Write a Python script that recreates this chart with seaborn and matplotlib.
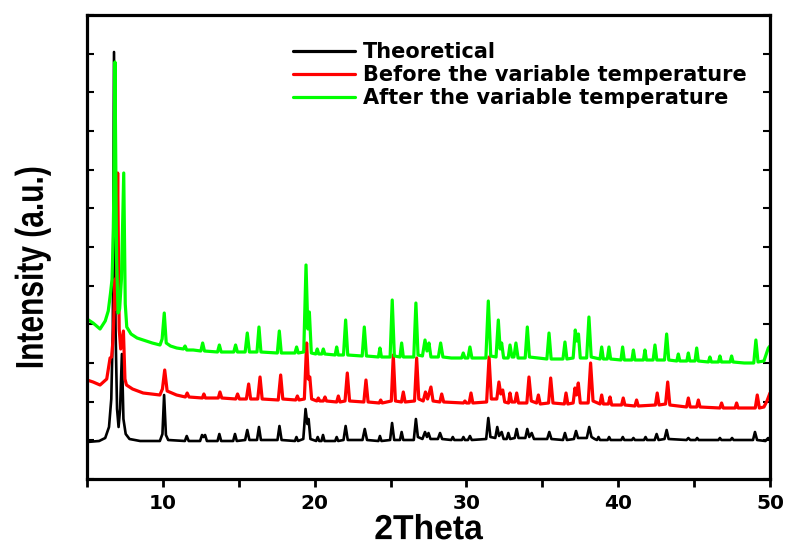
import numpy as np
import pandas as pd
import matplotlib
matplotlib.use("Agg")
import matplotlib.pyplot as plt
import seaborn as sns
from matplotlib.patheffects import AbstractPathEffect
from matplotlib.transforms import Affine2D

# ---------------- data (intensity in a.u.) ----------------
theo_x = [5.0, 5.8, 6.2, 6.45, 6.6, 6.7, 6.78, 6.88, 6.98, 7.08, 7.18, 7.3, 7.4, 7.55, 7.8, 8.5,
          9.8, 9.97, 10.08, 10.2, 10.35, 11.45, 11.57, 11.7, 12.45, 12.58, 12.68, 12.78, 12.9,
          13.6, 13.72, 13.84, 14.63, 14.75, 14.87, 15.42, 15.56, 15.7, 16.2, 16.33, 16.46,
          17.55, 17.68, 17.82, 18.7, 18.8, 18.9, 19.25, 19.4, 19.52, 19.6, 19.72, 20.1, 20.2,
          20.3, 20.45, 20.55, 20.65, 21.35, 21.45, 21.55, 21.9, 22.04, 22.18, 23.15, 23.3, 23.45,
          24.2, 24.3, 24.4, 24.97, 25.1, 25.24, 25.62, 25.73, 25.84, 26.53, 26.67, 26.8, 27.1,
          27.27, 27.4, 27.5, 27.63, 28.12, 28.26, 28.4, 29.0, 29.1, 29.2, 29.7, 29.8, 29.9, 30.1,
          30.23, 30.35, 31.3, 31.44, 31.58, 31.9, 32.03, 32.15, 32.32, 32.45, 32.65, 32.76, 32.88,
          33.18, 33.31, 33.43, 33.88, 34.01, 34.14, 34.3, 34.45, 35.32, 35.46, 35.6, 36.36, 36.49,
          36.62, 37.08, 37.22, 37.35, 37.93, 38.09, 38.24, 38.45, 38.6, 38.7, 38.8, 39.3, 39.4,
          39.5, 40.2, 40.3, 40.4, 40.9, 41.0, 41.1, 41.7, 41.8, 41.9, 42.4, 42.53, 42.66, 43.05,
          43.19, 43.32, 44.5, 44.62, 44.75, 45.1, 45.2, 45.3, 46.6, 46.7, 46.8, 47.4, 47.5, 47.6,
          48.88, 49.01, 49.15, 49.7, 49.88, 50.0]
theo_y = [37, 38, 41, 52, 80, 150, 427, 150, 70, 52, 70, 125, 60, 45, 40, 38,
          38, 45, 84, 44, 39, 38, 43, 38, 38, 44, 42, 44, 38,
          38, 45, 38, 38, 45, 38, 39, 49, 39, 39, 52, 39,
          39, 53, 39, 38, 42, 38, 40, 70, 55, 60, 40, 38, 42,
          38, 38, 44, 38, 38, 42, 38, 39, 53, 39, 39, 50, 39,
          38, 43, 38, 39, 56, 39, 39, 47, 39, 39, 60, 42, 40,
          47, 42, 46, 40, 40, 46, 40, 39, 42, 39, 39, 42, 39, 39,
          43, 39, 40, 61, 42, 41, 52, 43, 47, 40, 40, 46, 40,
          41, 50, 41, 41, 50, 42, 46, 40, 40, 47, 40, 39, 46,
          39, 40, 48, 41, 41, 52, 42, 40, 39, 42, 39, 39, 42,
          39, 39, 42, 39, 39, 41, 39, 39, 42, 39, 39, 45, 39, 40,
          49, 40, 39, 41, 39, 39, 41, 39, 39, 41, 39, 39, 41, 39,
          39, 47, 39, 38, 41, 39]

before_x = [5.0, 5.4, 5.86, 6.3, 6.52, 6.62, 6.72, 6.85, 6.92, 7.02, 7.12, 7.22, 7.4, 7.5, 7.6,
            8.0, 8.7, 9.8, 9.97, 10.12, 10.28, 10.9, 11.48, 11.6, 11.72, 12.6, 12.7, 12.8, 13.65,
            13.76, 13.88, 14.8, 14.92, 15.04, 15.5, 15.65, 15.78, 16.25, 16.4, 16.54, 17.6, 17.76,
            17.9, 18.75, 18.86, 18.97, 19.32, 19.47, 19.58, 19.68, 19.8, 20.14, 20.24, 20.34, 20.57,
            20.68, 20.78, 21.45, 21.56, 21.67, 22.0, 22.15, 22.3, 23.24, 23.38, 23.52, 24.25, 24.35,
            24.45, 25.05, 25.18, 25.32, 25.72, 25.84, 25.96, 26.58, 26.72, 26.86, 27.15, 27.3, 27.44,
            27.66, 27.8, 28.25, 28.37, 28.5, 29.8, 29.9, 30.0, 30.18, 30.3, 30.42, 31.33, 31.49,
            31.64, 32.0, 32.14, 32.26, 32.39, 32.52, 32.77, 32.87, 32.98, 33.2, 33.31, 33.43, 33.98,
            34.12, 34.27, 34.62, 34.74, 34.86, 35.41, 35.55, 35.7, 36.45, 36.56, 36.68, 37.03,
            37.15, 37.25, 37.37, 37.5, 38.02, 38.18, 38.34, 38.8, 38.91, 39.02, 39.35, 39.46, 39.57,
            40.22, 40.33, 40.44, 41.1, 41.21, 41.32, 42.45, 42.57, 42.69, 43.12, 43.26, 43.4, 44.5,
            44.62, 44.74, 45.17, 45.28, 45.39, 46.7, 46.81, 46.92, 47.7, 47.8, 47.9, 49.03, 49.16,
            49.3, 49.6, 49.8, 50.0]
before_y = [99, 97, 94, 100, 121, 122, 140, 200, 170, 306, 150, 130, 148, 100, 94,
            90, 86, 84, 90, 109, 88, 84, 82, 86, 82, 81, 85, 81, 81,
            87, 81, 80, 85, 80, 80, 95, 80, 80, 102, 80, 79, 104,
            80, 79, 83, 79, 80, 136, 100, 102, 80, 78, 81, 78, 78,
            82, 78, 77, 83, 77, 78, 106, 78, 77, 99, 77, 76, 79,
            76, 78, 124, 78, 77, 87, 77, 78, 121, 80, 78, 87, 80,
            92, 78, 77, 85, 77, 76, 78, 76, 76, 86, 76, 77, 122,
            80, 80, 97, 85, 89, 77, 76, 86, 77, 77, 86, 76, 76,
            102, 78, 76, 84, 75, 76, 101, 76, 75, 86, 75, 76,
            91, 84, 96, 76, 76, 116, 78, 75, 84, 75, 75, 82, 74,
            74, 81, 74, 73, 79, 73, 74, 86, 74, 75, 97, 74, 72,
            81, 72, 72, 79, 72, 71, 76, 71, 71, 76, 71, 71, 84,
            71, 72, 78, 86]

after_x = [5.0, 5.4, 5.86, 6.2, 6.4, 6.55, 6.65, 6.74, 6.84, 6.95, 7.05, 7.15, 7.27, 7.42, 7.52,
           7.62, 7.9, 8.3, 8.7, 9.3, 9.81, 9.95, 10.09, 10.22, 10.5, 10.91, 11.35, 11.46, 11.57,
           12.0, 12.5, 12.62, 12.74, 13.6, 13.72, 13.84, 14.2, 14.67, 14.79, 14.91, 15.42, 15.56,
           15.7, 16.2, 16.33, 16.46, 17.54, 17.67, 17.8, 18.3, 18.7, 18.81, 18.92, 19.28, 19.43,
           19.55, 19.65, 19.78, 20.07, 20.17, 20.27, 20.47, 20.57, 20.67, 21.35, 21.45, 21.55, 21.9,
           22.04, 22.18, 23.13, 23.27, 23.41, 24.2, 24.3, 24.4, 24.97, 25.11, 25.25, 25.62, 25.73,
           25.84, 26.53, 26.67, 26.81, 27.1, 27.27, 27.4, 27.53, 27.66, 28.15, 28.3, 28.45, 29.0,
           29.68, 29.79, 29.9, 30.1, 30.23, 30.36, 31.28, 31.44, 31.6, 31.95, 32.1, 32.22, 32.32,
           32.45, 32.75, 32.87, 33.0, 33.13, 33.26, 33.4, 33.87, 34.01, 34.15, 35.3, 35.44, 35.58,
           36.36, 36.49, 36.62, 37.03, 37.17, 37.27, 37.38, 37.5, 37.92, 38.07, 38.22, 38.8, 38.91,
           39.02, 39.28, 39.39, 39.5, 40.18, 40.29, 40.4, 40.9, 41.0, 41.1, 41.66, 41.76, 41.86,
           42.3, 42.42, 42.54, 43.05, 43.19, 43.33, 43.86, 43.96, 44.06, 44.52, 44.62, 44.72,
           45.06, 45.17, 45.28, 45.94, 46.04, 46.14, 46.6, 46.7, 46.8, 47.37, 47.47, 47.57, 48.3,
           48.93, 49.07, 49.21, 49.6, 49.89, 50.0]
after_y = [160, 156, 150, 158, 168, 186, 200, 250, 417, 220, 166, 170, 200, 306, 175,
           152, 145, 141, 139, 136, 134, 140, 166, 136, 133, 131, 130, 133, 129,
           129, 128, 136, 128, 127, 134, 127, 127, 127, 134, 127, 127, 146,
           127, 127, 152, 127, 126, 148, 126, 126, 126, 132, 126, 127, 214,
           150, 167, 126, 125, 130, 125, 125, 130, 125, 124, 132, 124, 124,
           159, 124, 123, 152, 123, 122, 131, 122, 122, 179, 123, 122, 136,
           122, 122, 176, 124, 123, 139, 128, 136, 122, 122, 136, 122, 121,
           121, 126, 121, 121, 132, 121, 121, 178, 123, 122, 159, 130, 136,
           121, 121, 134, 122, 122, 136, 121, 121, 152, 122, 120, 146, 120,
           120, 137, 120, 121, 149, 138, 145, 121, 121, 162, 122, 120, 132,
           120, 120, 132, 120, 119, 132, 119, 119, 129, 119, 119, 129, 119,
           119, 134, 119, 119, 145, 119, 118, 125, 118, 118, 126, 118,
           118, 131, 118, 117, 122, 117, 117, 123, 117, 117, 123, 117, 116,
           116, 139, 117, 118, 131, 133]

labels = ["Theoretical", "Before the variable temperature", "After the variable temperature"]
colors = ["#000000", "#ff0000", "#00ff00"]
xtick_major = [10, 20, 30, 40, 50]
xtick_minor = [5, 15, 25, 35, 45]

# ---------------- fonts ----------------
sns.set_theme(style="ticks")
plt.rcParams["font.family"] = ["DejaVu Sans"]
plt.rcParams["font.weight"] = "bold"
for key in ("text.color", "axes.labelcolor", "xtick.color", "ytick.color", "axes.edgecolor"):
    plt.rcParams[key] = "black"


class Condense(AbstractPathEffect):
    """Draw the text narrower along its reading direction (like a narrow typeface)."""

    def __init__(self, factor, vertical=False):
        super().__init__()
        self.factor = factor
        self.vertical = vertical

    def draw_path(self, renderer, gc, tpath, affine, rgbFace=None):
        ext = tpath.transformed(affine).get_extents()
        cx, cy = (ext.x0 + ext.x1) / 2, (ext.y0 + ext.y1) / 2
        sx, sy = (1, self.factor) if self.vertical else (self.factor, 1)
        squeeze = Affine2D().translate(-cx, -cy).scale(sx, sy).translate(cx, cy)
        renderer.draw_path(gc, tpath, affine + squeeze, rgbFace)


# ---------------- figure ----------------
df = pd.concat([
    pd.DataFrame({"2Theta": theo_x, "Intensity": theo_y, "Pattern": labels[0]}),
    pd.DataFrame({"2Theta": before_x, "Intensity": before_y, "Pattern": labels[1]}),
    pd.DataFrame({"2Theta": after_x, "Intensity": after_y, "Pattern": labels[2]}),
], ignore_index=True)

fig = plt.figure(figsize=(7.9, 5.52), dpi=100)
ax = fig.add_axes([87 / 790, 1 - 479 / 552, 683 / 790, 464 / 552])

sns.lineplot(data=df, x="2Theta", y="Intensity", hue="Pattern", hue_order=labels,
             palette=dict(zip(labels, colors)), estimator=None, sort=False,
             legend=False, ax=ax)

for line, lw in zip(ax.lines, [1.9, 2.3, 2.3]):
    line.set_linewidth(lw)
    line.set_solid_joinstyle("round")
    line.set_solid_capstyle("round")

ax.set_xlim(5, 50)
ax.set_ylim(0, 464)

ax.set_xticks(xtick_major)
ax.set_xticks(xtick_minor, minor=True)
ax.set_xticklabels([str(v) for v in xtick_major], fontsize=14.5, fontweight="bold",
                   family="DejaVu Sans", color="black")
ax.tick_params(axis="x", which="both", direction="out", length=6, width=2.0,
               bottom=True, top=False, pad=5, colors="black")

ax.set_yticks(np.linspace(0, 464, 13))
ax.tick_params(axis="y", which="major", direction="in", length=5, width=1.5,
               left=True, right=True, labelleft=False, colors="black")

for s in ax.spines.values():
    s.set_linewidth(2.3)
    s.set_color("black")
    s.set_visible(True)

ax.set_xlabel("2Theta", fontsize=25, fontweight="bold", family="Liberation Sans",
              color="black", path_effects=[Condense(0.97)])
ax.xaxis.set_label_coords(0.5, -0.0735)
ax.set_ylabel("Intensity (a.u.)", fontsize=28, fontweight="bold", family="Liberation Sans",
              color="black", path_effects=[Condense(0.77, vertical=True)])
ax.yaxis.set_label_coords(-0.053, 0.455)

leg = ax.legend(ax.lines, labels, loc="upper left", bbox_to_anchor=(0.3016, 0.941),
                frameon=False, prop={"family": "DejaVu Sans", "weight": "bold", "size": 15},
                handlelength=3.0, handletextpad=0.34, labelspacing=0.13,
                borderpad=0, borderaxespad=0)
for t in leg.get_texts():
    t.set_color("black")
for h in leg.get_lines():
    h.set_linewidth(2.3)

fig.savefig("out.png", dpi=100)
